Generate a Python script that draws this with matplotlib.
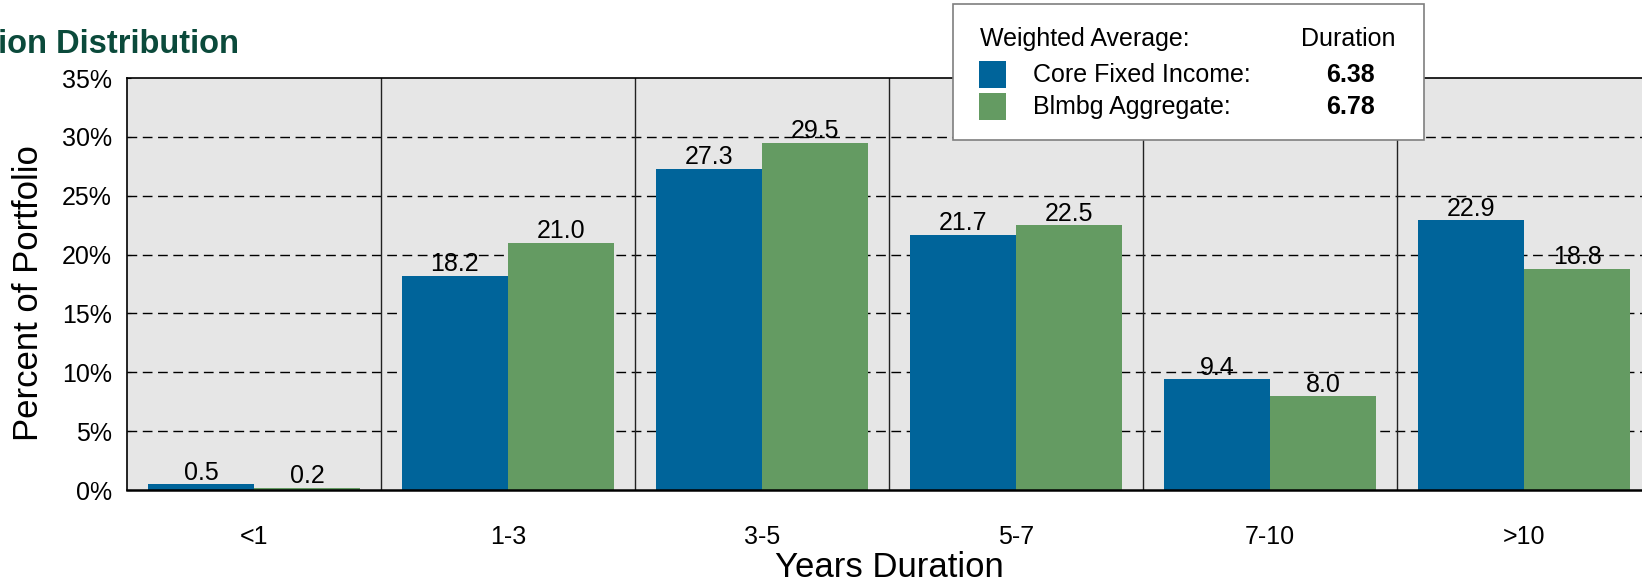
import matplotlib
matplotlib.use("Agg")
import matplotlib.pyplot as plt
from matplotlib.patches import Rectangle
import numpy as np

plt.rcParams['font.family'] = ['Liberation Sans', 'DejaVu Sans']

categories = ["<1", "1-3", "3-5", "5-7", "7-10", ">10"]
core_fixed_income = [0.5, 18.2, 27.3, 21.7, 9.4, 22.9]
blmbg_aggregate = [0.2, 21.0, 29.5, 22.5, 8.0, 18.8]
y_ticks = [0, 5, 10, 15, 20, 25, 30, 35]
y_tick_labels = ["0%", "5%", "10%", "15%", "20%", "25%", "30%", "35%"]
series_names = ["Core Fixed Income:", "Blmbg Aggregate:"]
avg_durations = ["6.38", "6.78"]

BLUE = "#00649A"
GREEN = "#649B62"
TITLE_GREEN = "#0B4A3B"

W, H = 1642, 582
fig = plt.figure(figsize=(W / 100, H / 100), dpi=100)

# plot area extends slightly past the right edge of the canvas
left, right, top, bottom = 127, 1651, 78, 490
ax = fig.add_axes([left / W, 1 - bottom / H, (right - left) / W, (bottom - top) / H])
ax.set_facecolor("#E6E6E6")

x = np.arange(len(categories))
bw = 0.418
b1 = ax.bar(x - bw / 2, core_fixed_income, bw, color=BLUE, zorder=3)
b2 = ax.bar(x + bw / 2, blmbg_aggregate, bw, color=GREEN, zorder=3)

for bars, vals in ((b1, core_fixed_income), (b2, blmbg_aggregate)):
    for rect, v in zip(bars, vals):
        ax.annotate(f"{v:.1f}", (rect.get_x() + rect.get_width() / 2, v),
                    xytext=(0, -0.5), textcoords="offset points",
                    ha="center", va="bottom", fontsize=18, zorder=5)

ax.set_xlim(-0.5, len(categories) - 0.5)
ax.set_ylim(0, 35)
ax.set_yticks(y_ticks)
ax.set_yticklabels(y_tick_labels, fontsize=18)
ax.set_xticks(x)
ax.set_xticklabels(categories, fontsize=18)
ax.tick_params(axis="y", direction="in", length=3, pad=11)
ax.tick_params(axis="x", length=0, pad=25)

for yv in y_ticks[1:-1]:
    ax.axhline(yv, color="black", lw=1, ls=(0, (7, 4)), zorder=1)
for xv in x[:-1] + 0.5:
    ax.axvline(xv, color="#222222", lw=1, zorder=2)

for side in ("left", "top", "bottom"):
    ax.spines[side].set_color("black")
    ax.spines[side].set_linewidth(1.2)
ax.spines["bottom"].set_linewidth(1.8)
ax.spines["bottom"].set_zorder(4)
ax.spines["right"].set_visible(False)

# axis titles placed in figure pixels
fig.text(29 / W, 1 - 293 / H, "Percent of Portfolio", rotation=90,
         ha="center", va="center", fontsize=25)
fig.text(889 / W, 1 - 577 / H, "Years Duration", ha="center", va="baseline",
         fontsize=25)

# chart title, running in from the left edge: its start is shifted left so
# that only "ion Distribution" falls inside the canvas
title_kw = dict(va="baseline", fontsize=23.5, fontweight="bold", color=TITLE_GREEN)
renderer = fig.canvas.get_renderer()
probe = fig.text(0, 0, "Durat", **title_kw)
w_prefix = probe.get_window_extent(renderer).width
probe.remove()
fig.text((-w_prefix - 2) / W, 1 - 53 / H, "Duration Distribution", ha="left",
         **title_kw)

# weighted average duration box
bx0, bx1, by0, by1 = 953, 1424, 4, 140
fig.patches.append(Rectangle((bx0 / W, 1 - by1 / H), (bx1 - bx0) / W, (by1 - by0) / H,
                             transform=fig.transFigure, facecolor="white",
                             edgecolor="#7F7F7F", lw=1.2, zorder=10))
fig.text(980 / W, 1 - 39 / H, "Weighted Average:", ha="left", va="center",
         fontsize=18, zorder=11)
fig.text(1348 / W, 1 - 39 / H, "Duration", ha="center", va="center",
         fontsize=18, zorder=11)
for i, (name, val, col) in enumerate(zip(series_names, avg_durations, (BLUE, GREEN))):
    yc = 75 + i * 32
    fig.patches.append(Rectangle((979 / W, 1 - (yc + 13) / H), 27 / W, 27 / H,
                                 transform=fig.transFigure, facecolor=col,
                                 edgecolor="none", zorder=11))
    fig.text(1033 / W, 1 - yc / H, name, ha="left", va="center", fontsize=18, zorder=11)
    fig.text(1350 / W, 1 - yc / H, val, ha="center", va="center", fontsize=18,
             fontweight="bold", zorder=11)

fig.savefig("out.png", dpi=100)
